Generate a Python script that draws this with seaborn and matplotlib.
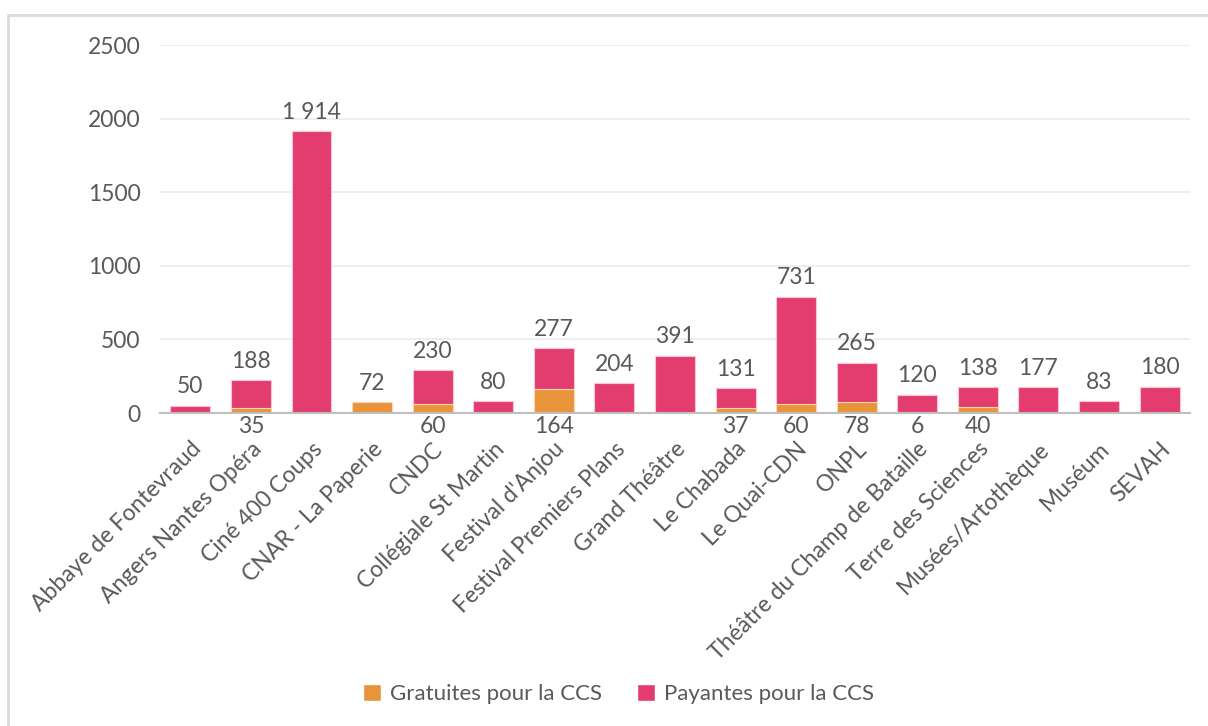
import pandas as pd
import numpy as np
import matplotlib.pyplot as plt
import seaborn as sns
from matplotlib.lines import Line2D
from matplotlib.patches import Patch

# données
structures = ["Abbaye de Fontevraud", "Angers Nantes Opéra", "Ciné 400 Coups",
              "CNAR - La Paperie", "CNDC", "Collégiale St Martin", "Festival d'Anjou",
              "Festival Premiers Plans", "Grand Théâtre", "Le Chabada", "Le Quai-CDN",
              "ONPL", "Théâtre du Champ de Bataille", "Terre des Sciences",
              "Musées/Artothèque", "Muséum", "SEVAH"]
gratuites = [0, 35, 0, 72, 60, 0, 164, 0, 0, 37, 60, 78, 6, 40, 0, 0, 0]
payantes = [50, 188, 1914, 0, 230, 80, 277, 204, 391, 131, 731, 265, 120, 138, 177, 83, 180]
yticks = [0, 500, 1000, 1500, 2000, 2500]

c_grat = "#E9943A"
c_pay = "#E33C6E"
gris = "#595959"

df = pd.DataFrame({"structure": structures, "gratuites": gratuites, "payantes": payantes})
df["total"] = df["gratuites"] + df["payantes"]

sns.set_style("white")
plt.rcParams['font.family'] = ['Lato', 'DejaVu Sans']

fig = plt.figure(figsize=(12.08, 7.26), dpi=100)
ax = fig.add_axes([0.1325, 0.431, 0.8525, 0.507])

sns.barplot(data=df, x="structure", y="total", color=c_pay, width=0.66, saturation=1,
            edgecolor="#F7C6D3", linewidth=0.8, ax=ax)
sns.barplot(data=df, x="structure", y="gratuites", color=c_grat, width=0.66, saturation=1,
            edgecolor="#F7D9B8", linewidth=0.8, ax=ax)

ax.set_ylim(0, 2500)
ax.set_xlim(-0.5, len(structures) - 0.5)
ax.set_yticks(yticks)
ax.set_yticklabels([str(t) for t in yticks], fontsize=16.5, color=gris)
ax.set_xlabel("")
ax.set_ylabel("")
ax.grid(axis="y", color="#EBEBEB", linewidth=1.2)
ax.set_axisbelow(True)
for s in ["top", "right", "left"]:
    ax.spines[s].set_visible(False)
ax.spines["bottom"].set_color("#BFBFBF")
ax.spines["bottom"].set_linewidth(1.5)
ax.tick_params(axis="both", length=0)
ax.tick_params(axis="y", pad=14)

ax.set_xticks(range(len(structures)))
ax.set_xticklabels(structures, rotation=45, ha="right", rotation_mode="anchor",
                   fontsize=16.5, color=gris)
for lab in ax.get_xticklabels():
    lab.set_y(-0.055)

# étiquettes
for i, row in df.iterrows():
    haut = row["payantes"] if row["payantes"] > 0 else row["gratuites"]
    txt = f"{haut:,}".replace(",", " ")
    ax.annotate(txt, (i, row["total"]), xytext=(0, 6), textcoords="offset points",
                ha="center", va="bottom", fontsize=16.5, color=gris)
    if row["gratuites"] > 0 and row["payantes"] > 0:
        ax.annotate(str(row["gratuites"]), (i, 0), xytext=(0, -2), textcoords="offset points",
                    ha="center", va="top", fontsize=16.5, color=gris)

handles = [Patch(facecolor=c_grat, label="Gratuites pour la CCS"),
           Patch(facecolor=c_pay, label="Payantes pour la CCS")]
fig.legend(handles=handles, loc="center", bbox_to_anchor=(0.512, 0.044), ncol=2,
           frameon=False, fontsize=16, labelcolor=gris, handlelength=0.8,
           handleheight=0.8, handletextpad=0.4, columnspacing=1.6)

# cadre
fig.add_artist(Line2D([8 / 1208, 1], [1 - 15 / 726, 1 - 15 / 726], color="#D9D9D9",
                      linewidth=2, transform=fig.transFigure))
fig.add_artist(Line2D([8 / 1208, 8 / 1208], [0, 1 - 15 / 726], color="#D9D9D9",
                      linewidth=2, transform=fig.transFigure))

fig.savefig("out.png", dpi=100, facecolor="white")
